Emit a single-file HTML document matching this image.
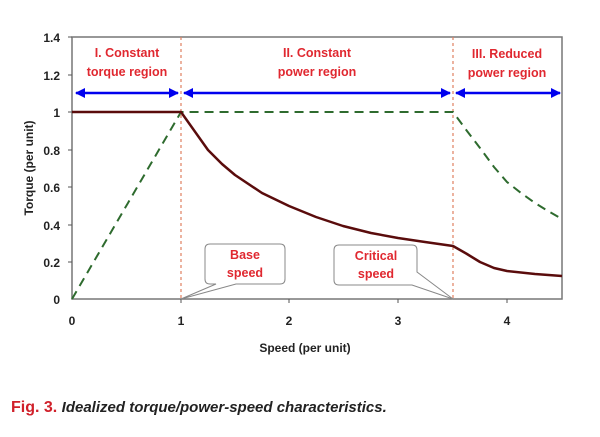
<!DOCTYPE html>
<html><head><style>
body{margin:0;background:#fff;width:600px;height:432px;overflow:hidden}
text{font-family:"Liberation Sans",Arial,sans-serif}
</style></head><body>
<svg width="600" height="432" xmlns="http://www.w3.org/2000/svg">
<defs>
<marker id="ah" markerWidth="10" markerHeight="10" refX="9" refY="5" orient="auto-start-reverse" markerUnits="userSpaceOnUse"><path d="M0,0 L10,5 L0,10 Z" fill="#0000ee"/></marker>
</defs>
<rect x="72" y="37" width="490" height="262" fill="none" stroke="#777" stroke-width="1.5"/>
<g stroke="#555" stroke-width="1">
<line x1="68" y1="37" x2="72" y2="37"/><line x1="68" y1="75" x2="72" y2="75"/><line x1="68" y1="112" x2="72" y2="112"/><line x1="68" y1="150" x2="72" y2="150"/><line x1="68" y1="187" x2="72" y2="187"/><line x1="68" y1="225" x2="72" y2="225"/><line x1="68" y1="262" x2="72" y2="262"/>
<line x1="181" y1="299" x2="181" y2="303"/><line x1="289" y1="299" x2="289" y2="303"/><line x1="398" y1="299" x2="398" y2="303"/><line x1="507" y1="299" x2="507" y2="303"/>
</g>
<g font-size="12" font-weight="bold" fill="#222" text-anchor="end">
<text x="60" y="42">1.4</text><text x="60" y="80">1.2</text><text x="60" y="117">1</text><text x="60" y="155">0.8</text><text x="60" y="192">0.6</text><text x="60" y="230">0.4</text><text x="60" y="267">0.2</text><text x="60" y="304">0</text>
</g>
<g font-size="12" font-weight="bold" fill="#222" text-anchor="middle">
<text x="72" y="325">0</text><text x="181" y="325">1</text><text x="289" y="325">2</text><text x="398" y="325">3</text><text x="507" y="325">4</text>
<text x="305" y="352">Speed (per unit)</text>
<text transform="translate(33,168) rotate(-90)">Torque (per unit)</text>
</g>
<line x1="181" y1="37" x2="181" y2="299" stroke="#e08060" stroke-width="1.2" stroke-dasharray="3,3"/>
<line x1="453" y1="37" x2="453" y2="299" stroke="#e08060" stroke-width="1.2" stroke-dasharray="3,3"/>
<polyline points="72,299 181,112 453,112 467,131 480,148 494,167 507,182 521,193 535,203 548,211 562,219" fill="none" stroke="#2e6b2e" stroke-width="2" stroke-dasharray="9,6"/>
<polyline points="72,112 181,112 208,150 222,164 235,175 262,193 289,206 316,217 343,226 371,233 398,238 425,242 453,246 467,254 480,262 494,268 507,271 535,274 562,276" fill="none" stroke="#5a0c0c" stroke-width="2.5" stroke-linejoin="round"/>
<line x1="76" y1="93" x2="178" y2="93" stroke="#0000ee" stroke-width="2.5" marker-start="url(#ah)" marker-end="url(#ah)"/>
<line x1="184" y1="93" x2="450" y2="93" stroke="#0000ee" stroke-width="2.5" marker-start="url(#ah)" marker-end="url(#ah)"/>
<line x1="456" y1="93" x2="560" y2="93" stroke="#0000ee" stroke-width="2.5" marker-start="url(#ah)" marker-end="url(#ah)"/>
<g font-size="12.5" font-weight="bold" fill="#e02830" text-anchor="middle">
<text x="127" y="57">I. Constant</text><text x="127" y="76">torque region</text>
<text x="317" y="57">II. Constant</text><text x="317" y="76">power region</text>
<text x="507" y="58">III. Reduced</text><text x="507" y="77">power region</text>
</g>
<path d="M210,244 H280 Q285,244 285,249 V279 Q285,284 280,284 H236 L181,299 L216,284 H210 Q205,284 205,279 V249 Q205,244 210,244 Z" fill="#fff" stroke="#888" stroke-width="1"/>
<path d="M339,245 H412 Q417,245 417,250 V272 L453,299 L412,285 H339 Q334,285 334,280 V250 Q334,245 339,245 Z" fill="#fff" stroke="#888" stroke-width="1"/>
<g font-size="12.5" font-weight="bold" fill="#e02830" text-anchor="middle">
<text x="245" y="259">Base</text><text x="245" y="277">speed</text>
<text x="376" y="260">Critical</text><text x="376" y="278">speed</text>
</g>
<text x="11" y="412" font-size="16" font-weight="bold" fill="#d0202a">Fig. 3. <tspan fill="#222" font-style="italic" font-size="15">Idealized torque/power-speed characteristics.</tspan></text>
</svg>
</body></html>
